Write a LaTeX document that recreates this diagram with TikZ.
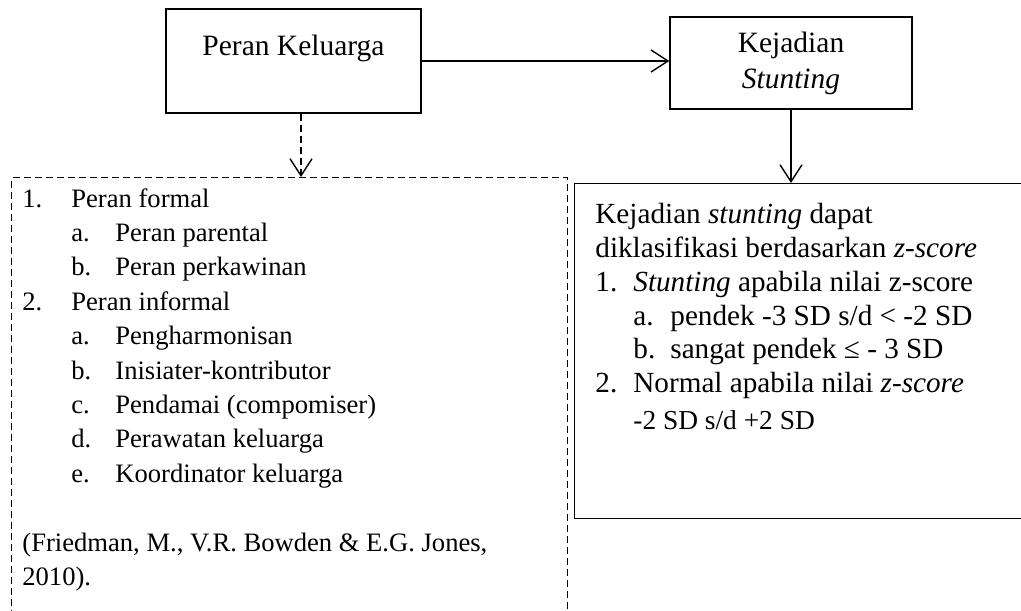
\documentclass[tikz,border=0pt]{standalone}
\usepackage{fontspec}
\setmainfont{Liberation Serif}
\usetikzlibrary{arrows.meta,positioning}

\tikzset{
    box/.style={shape=rectangle,draw=black,line width=0.7pt},
    dashbox/.style={shape=rectangle,draw=black,line width=0.6pt,dash pattern=on 3.5pt off 2pt},
    arr/.style={-{Straight Barb[length=8.5pt,width=11pt]},line width=0.7pt},
    headfont/.style={font=\fontsize{14.75}{18}\selectfont},
}

\begin{document}
\begin{tikzpicture}[x=0.5pt,y=-0.5pt]
        \useasboundingbox (0,0) rectangle (1021,610);
        \clip (0,0) rectangle (1021,610);

        \node[box,headfont,minimum width=127.5pt,inner ysep=0pt,text height=23.5pt,text depth=28.5pt] (pk) at (293.5,61) {Peran Keluarga};
        \node[box,headfont,minimum width=121pt,minimum height=46pt,align=center] (kj) at (791,63) {Kejadian\\\textit{Stunting}};
        \node[dashbox,anchor=north west,minimum width=278pt,minimum height=240pt] (lbox) at (11,177) {};
        \node[box,anchor=north west,minimum width=235pt,minimum height=167.5pt] (rbox) at (574,183) {};

        \node[anchor=north west,inner sep=0pt,align=left,font=\fontsize{13.3}{17.2}\selectfont] (peran) at (22,188) {%
            \makebox[24.5pt][l]{1.}Peran formal\\
            \hspace*{24.5pt}\makebox[22pt][l]{a.}Peran parental\\
            \hspace*{24.5pt}\makebox[22pt][l]{b.}Peran perkawinan\\
            \makebox[24.5pt][l]{2.}Peran informal\\
            \hspace*{24.5pt}\makebox[22pt][l]{a.}Pengharmonisan\\
            \hspace*{24.5pt}\makebox[22pt][l]{b.}Inisiater-kontributor\\
            \hspace*{24.5pt}\makebox[22pt][l]{c.}Pendamai (compomiser)\\
            \hspace*{24.5pt}\makebox[22pt][l]{d.}Perawatan keluarga\\
            \hspace*{24.5pt}\makebox[22pt][l]{e.}Koordinator keluarga\\[17.4pt]
            (Friedman, M., V.R. Bowden \& E.G. Jones,\\
            2010).};

        \node[anchor=north west,inner sep=0pt,align=left,font=\fontsize{14.6}{16.9}\selectfont] (klas) at (595,203) {%
            Kejadian \textit{stunting} dapat\\
            diklasifikasi berdasarkan \textit{z-score}\\
            \makebox[19pt][l]{1.}\textit{Stunting} apabila nilai z-score\\
            \hspace*{19pt}\makebox[18.5pt][l]{a.}pendek -3 SD s/d < -2 SD\\
            \hspace*{19pt}\makebox[18.5pt][l]{b.}sangat pendek ≤ - 3 SD\\
            \makebox[19pt][l]{2.}Normal apabila nilai \textit{z-score}\\[1.5pt]
            \hspace*{19pt}{\fontsize{13.7}{16}\selectfont -2 SD s/d +2 SD}};

        \path [arr](pk.east) edge (pk.east -| kj.west);
        \path [arr,dash pattern=on 3.5pt off 2pt]([xshift=3.75pt]pk.south) edge ([xshift=3.75pt]pk.south |- lbox.north);
        \path [arr](kj.south) edge (kj.south |- rbox.north);
    \end{tikzpicture}
\end{document}
